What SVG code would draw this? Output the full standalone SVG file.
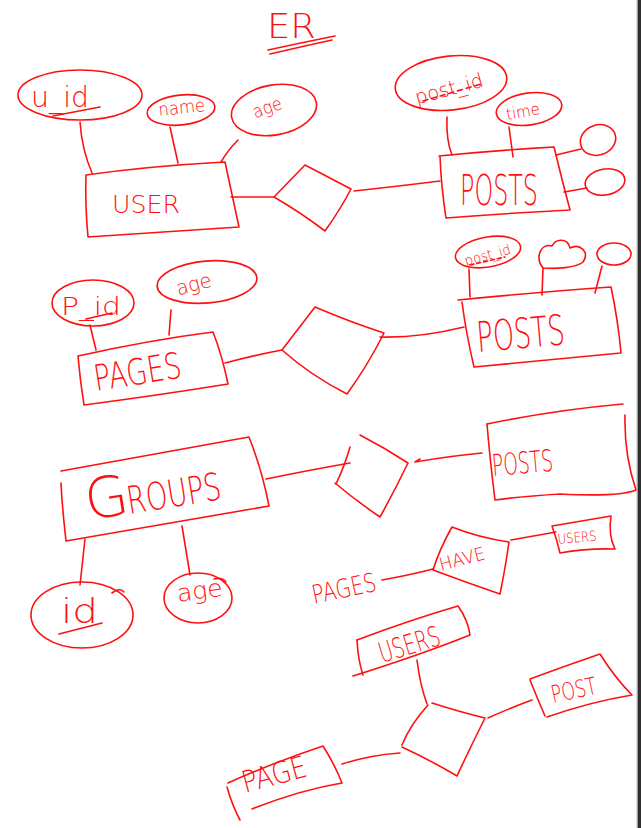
<svg xmlns="http://www.w3.org/2000/svg" width="641" height="828" viewBox="0 0 641 828">
<style>
.s{fill:none;stroke:#ff1010;stroke-width:1.6;stroke-linecap:round;stroke-linejoin:round}
.t{fill:#ff1010;font-family:"DejaVu Sans","Liberation Sans",Arial,sans-serif;font-weight:200}
</style>
<rect x="0" y="0" width="641" height="828" fill="#ffffff"/>
<rect x="636.5" y="0" width="1.2" height="828" fill="#bbbbbb"/>
<rect x="637.7" y="0" width="3.3" height="828" fill="#2e2e2e"/>

<g id="title">
<text class="t" x="267" y="38" font-size="34" textLength="49" lengthAdjust="spacingAndGlyphs">ER</text>
<path class="s" d="M268,50 Q300,43 335,36"/>
<path class="s" d="M270,54 Q300,47 332,40"/>
</g>

<g id="connectors">
<path class="s" d="M80,122 Q82,150 92,173"/>
<path class="s" d="M170,127 L178,163"/>
<path class="s" d="M238,140 Q228,150 221,162"/>
<path class="s" d="M231,197 L274,197"/>
<path class="s" d="M354,191 Q400,186 440,181"/>
<path class="s" d="M447,117 Q446,140 452,155"/>
<path class="s" d="M509,127 L513,157"/>
<path class="s" d="M556,155 L581,149"/>
<path class="s" d="M564,192 L587,188"/>
<path class="s" d="M90,325 L96,350"/>
<path class="s" d="M171,310 L169,335"/>
<path class="s" d="M225,363 Q255,355 282,350"/>
<path class="s" d="M380,337 Q420,338 464,327"/>
<path class="s" d="M469,269 L470,297"/>
<path class="s" d="M543,268 L542,295"/>
<path class="s" d="M602,266 L595,293"/>
<path class="s" d="M85,539 L80,585"/>
<path class="s" d="M182,526 L190,575"/>
<path class="s" d="M266,479 Q310,470 350,463"/>
<path class="s" d="M482,453 Q450,456 415,462 L420,459"/>
<path class="s" d="M382,580 Q410,575 433,569"/>
<path class="s" d="M511,540 L556,532"/>
<path class="s" d="M417,660 Q420,685 427,704"/>
<path class="s" d="M488,718 Q510,708 532,700"/>
<path class="s" d="M342,764 Q370,755 400,753"/>
</g>

<g id="attr-u_id">
<ellipse class="s" cx="80" cy="95" rx="62" ry="25"/>
<text class="t" x="31" y="107" font-size="28" textLength="58" lengthAdjust="spacingAndGlyphs">u_id</text>
<path class="s" d="M53,116 L100,107" stroke-width="2.6"/>
</g>
<g id="attr-name">
<ellipse class="s" cx="181" cy="110" rx="34" ry="15" transform="rotate(-6 181 110)"/>
<text class="t" x="159" y="116" font-size="18" textLength="47" lengthAdjust="spacingAndGlyphs" transform="rotate(-6 159 116)">name</text>
</g>
<g id="attr-age1">
<ellipse class="s" cx="274" cy="110" rx="43" ry="25" transform="rotate(-10 274 110)"/>
<text class="t" x="253" y="114" font-size="18" textLength="30" lengthAdjust="spacingAndGlyphs" transform="rotate(-20 267 110)">age</text>
</g>
<g id="user">
<path class="s" d="M86,175 Q150,166 225,162 Q232,195 239,227 Q160,232 88,237 Q85,205 86,175"/>
<text class="t" x="112" y="213" font-size="25" textLength="68" lengthAdjust="spacingAndGlyphs">USER</text>
</g>
<g id="rel1">
<path class="s" d="M274,197 L305,165 L351,189 Q340,210 325,231 Q300,212 274,197 Z"/>
</g>
<g id="posts1">
<path class="s" d="M439,156 Q500,150 554,147 Q562,180 570,210 Q510,213 446,218 Q441,185 440,156"/>
<text class="t" x="460" y="205" font-size="42" textLength="78" lengthAdjust="spacingAndGlyphs">POSTS</text>
</g>
<g id="attr-post_id1">
<ellipse class="s" cx="451" cy="83" rx="56" ry="27" transform="rotate(-6 451 83)"/>
<text class="t" x="413" y="96" font-size="20" textLength="70" lengthAdjust="spacingAndGlyphs" transform="rotate(-15 447 85)">post_id</text>
<path class="s" d="M423,101 L481,84" stroke-dasharray="5 4"/>
</g>
<g id="attr-time">
<ellipse class="s" cx="529" cy="109" rx="33" ry="16" transform="rotate(-8 529 109)"/>
<text class="t" x="506" y="117" font-size="16" textLength="34" lengthAdjust="spacingAndGlyphs" transform="rotate(-10 523 112)">time</text>
</g>
<g id="attr-a1">
<ellipse class="s" cx="598" cy="140" rx="18" ry="15" transform="rotate(-20 598 140)"/>
</g>
<g id="attr-a2">
<ellipse class="s" cx="605" cy="182" rx="20" ry="13" transform="rotate(-10 605 182)"/>
</g>

<g id="attr-p_id">
<ellipse class="s" cx="93" cy="303" rx="41" ry="23"/>
<text class="t" x="61" y="315" font-size="24" textLength="60" lengthAdjust="spacingAndGlyphs">P_id</text>
<path class="s" d="M86,319 L112,313" stroke-width="2.2"/>
</g>
<g id="attr-age2">
<ellipse class="s" cx="207" cy="282" rx="50" ry="21" transform="rotate(-5 207 282)"/>
<text class="t" x="176" y="291" font-size="20" textLength="36" lengthAdjust="spacingAndGlyphs" transform="rotate(-15 194 285)">age</text>
</g>
<g id="pages1">
<path class="s" d="M78,356 Q150,340 213,332 Q222,355 228,384 Q160,395 84,405 Q80,380 78,356"/>
<text class="t" x="96" y="391" font-size="36" textLength="88" lengthAdjust="spacingAndGlyphs" transform="rotate(-9 96 391)">PAGES</text>
</g>
<g id="rel2">
<path class="s" d="M282,350 L315,307 Q350,322 384,333 Q368,365 347,394 Q310,375 282,350 Z"/>
</g>
<g id="posts2">
<path class="s" d="M458,300 Q540,292 611,287 Q618,320 621,353 Q545,360 474,367 Q466,333 462,302"/>
<text class="t" x="478" y="352" font-size="42" textLength="88" lengthAdjust="spacingAndGlyphs" transform="rotate(-5 478 352)">POSTS</text>
</g>
<g id="attr-post_id2">
<ellipse class="s" cx="488" cy="252" rx="33" ry="15" transform="rotate(-10 488 252)"/>
<text class="t" x="464" y="260" font-size="14" textLength="47" lengthAdjust="spacingAndGlyphs" transform="rotate(-15 487 255)">post_id</text>
<path class="s" d="M470,265 L505,257" stroke-dasharray="4 3"/>
</g>
<g id="attr-cloud">
<path class="s" d="M543,268 C535,258 540,243 552,246 C556,238 568,238 570,248 C580,243 590,252 583,262 C576,268 556,269 543,268 Z"/>
</g>
<g id="attr-a3">
<ellipse class="s" cx="614" cy="254" rx="17" ry="11"/>
</g>

<g id="groups">
<path class="s" d="M61,471 Q150,455 249,437 Q262,470 269,506 Q160,525 66,541 Q62,505 61,483"/>
<text class="t" x="88" y="520" font-size="56" transform="rotate(-9 88 520)">G</text>
<text class="t" x="129" y="514" font-size="38" textLength="95" lengthAdjust="spacingAndGlyphs" transform="rotate(-9 129 514)">ROUPS</text>
</g>
<g id="attr-id">
<ellipse class="s" cx="82" cy="615" rx="51" ry="33"/>
<path class="s" d="M112,593 Q120,587 124,592"/>
<text class="t" x="61" y="623" font-size="34" textLength="37" lengthAdjust="spacingAndGlyphs">id</text>
<path class="s" d="M59,634 L102,623"/>
</g>
<g id="attr-age3">
<ellipse class="s" cx="198" cy="598" rx="34" ry="25"/>
<path class="s" d="M214,579 Q222,577 226,582"/>
<text class="t" x="178" y="602" font-size="24" textLength="46" lengthAdjust="spacingAndGlyphs" transform="rotate(-8 178 602)">age</text>
</g>
<g id="rel3">
<path class="s" d="M360,435 Q385,448 408,463 Q395,490 380,517 Q355,500 335,483"/>
<path class="s" d="M350,447 Q345,465 336,484"/>
</g>
<g id="posts3">
<path class="s" d="M487,424 Q555,410 623,404"/>
<path class="s" d="M625,415 Q624,455 636,490 Q620,497 560,494 Q525,496 495,500 Q490,460 487,424"/>
<text class="t" x="493" y="476" font-size="30" textLength="61" lengthAdjust="spacingAndGlyphs" transform="rotate(-5 493 476)">POSTS</text>
</g>
<g id="pages2">
<text class="t" x="314" y="604" font-size="26" textLength="65" lengthAdjust="spacingAndGlyphs" transform="rotate(-12 314 604)">PAGES</text>
</g>
<g id="have">
<path class="s" d="M452,527 Q480,538 509,542 Q505,570 500,594 Q465,582 433,570 Q440,548 452,527 Z"/>
<text class="t" x="441" y="571" font-size="18" textLength="47" lengthAdjust="spacingAndGlyphs" transform="rotate(-15 441 571)">HAVE</text>
</g>
<g id="users1">
<path class="s" d="M552,526 L611,516 Q608,535 615,549 Q588,548 560,553 Q557,540 552,526"/>
<text class="t" x="558" y="544" font-size="14" textLength="39" lengthAdjust="spacingAndGlyphs" transform="rotate(-5 558 544)">USERS</text>
</g>

<g id="users2">
<path class="s" d="M357,640 Q410,620 458,606 Q468,620 470,635 Q420,655 353,676"/>
<path class="s" d="M357,640 Q358,660 363,675"/>
<text class="t" x="382" y="663" font-size="28" textLength="63" lengthAdjust="spacingAndGlyphs" transform="rotate(-17 382 663)">USERS</text>
</g>
<g id="rel4">
<path class="s" d="M432,703 Q460,712 485,718 Q470,748 457,776 Q430,760 402,747"/>
<path class="s" d="M428,705 Q410,725 402,745"/>
</g>
<g id="post">
<path class="s" d="M530,679 Q565,666 600,654 Q615,678 632,695 Q590,702 547,717"/>
<path class="s" d="M530,680 Q538,700 545,716"/>
<text class="t" x="553" y="703" font-size="24" textLength="46" lengthAdjust="spacingAndGlyphs" transform="rotate(-12 553 703)">POST</text>
</g>
<g id="page">
<path class="s" d="M228,783 Q275,762 323,746 Q335,765 342,783 Q300,790 252,809"/>
<path class="s" d="M227,787 Q232,805 240,820"/>
<text class="t" x="245" y="793" font-size="30" textLength="66" lengthAdjust="spacingAndGlyphs" transform="rotate(-15 245 793)">PAGE</text>
</g>
</svg>
